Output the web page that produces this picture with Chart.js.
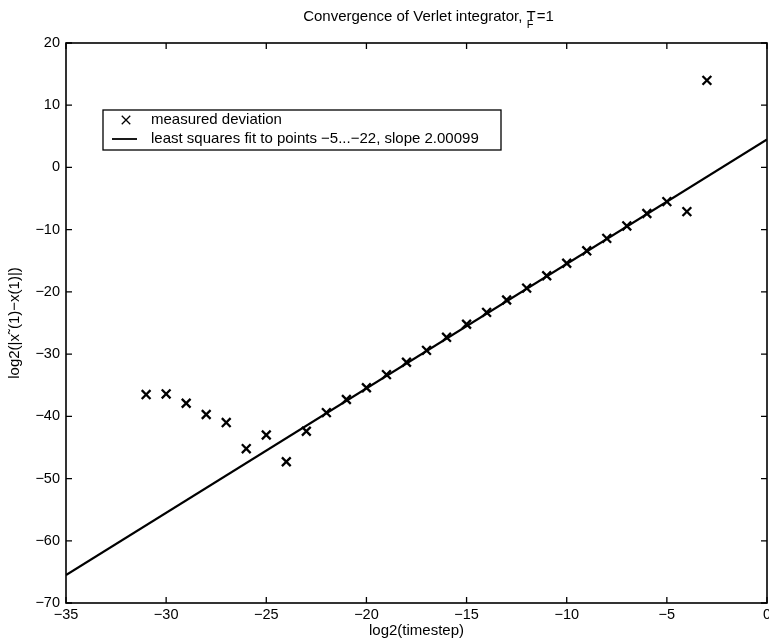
<!DOCTYPE html>
<html>
<head>
<meta charset="utf-8">
<script src="https://cdn.jsdelivr.net/npm/chart.js@4.4.1/dist/chart.umd.min.js"></script>
<style>
html,body{margin:0;padding:0;background:#fff}
#wrap{width:769px;height:640px}
</style>
</head>
<body>
<div id="wrap"><canvas id="c" width="769" height="640"></canvas></div>
<script>
// log2 of the timestep and the measured deviation at that step
const stepLog=[-31,-30,-29,-28,-27,-26,-25,-24,-23,-22,-21,-20,-19,-18,-17,-16,-15,-14,-13,-12,-11,-10,-9,-8,-7,-6,-5,-4,-3];
const deviation=[-36.5,-36.4,-37.9,-39.7,-41.0,-45.2,-43.0,-47.3,-42.4,-39.4,-37.3,-35.4,-33.3,-31.3,-29.4,-27.3,-25.2,-23.3,-21.3,-19.4,-17.4,-15.4,-13.4,-11.4,-9.4,-7.4,-5.5,-7.1,14.0];
// least squares line, drawn across the whole x range
const fitX=[-35,0];
const fitY=[-65.5,4.5];
const xTicks=[-35,-30,-25,-20,-15,-10,-5,0];
const yTicks=[20,10,0,-10,-20,-30,-40,-50,-60,-70];

const FONT='"Liberation Sans", Arial, Helvetica, sans-serif';
const minus=v=>String(v).replace('-','\u2212');

const frame={
  id:'frame',
  afterDraw(chart){
    const {ctx,chartArea:a,scales:{x,y}}=chart;
    ctx.save();
    ctx.strokeStyle='#000';ctx.lineWidth=1.6;
    ctx.strokeRect(a.left,a.top,a.right-a.left,a.bottom-a.top);
    // inward tick marks on all four sides
    ctx.beginPath();
    xTicks.forEach(v=>{const p=x.getPixelForValue(v);ctx.moveTo(p,a.bottom);ctx.lineTo(p,a.bottom-6);ctx.moveTo(p,a.top);ctx.lineTo(p,a.top+6)});
    yTicks.forEach(v=>{const p=y.getPixelForValue(v);ctx.moveTo(a.left,p);ctx.lineTo(a.left+6,p);ctx.moveTo(a.right,p);ctx.lineTo(a.right-6,p)});
    ctx.lineWidth=1.3;ctx.stroke();

    // title with subscript F
    ctx.fillStyle='#000';ctx.textBaseline='alphabetic';ctx.textAlign='left';
    const t1='Convergence of Verlet integrator, T',t3='=1';
    ctx.font='15px '+FONT;
    const w1=ctx.measureText(t1).width,w3=ctx.measureText(t3).width;
    const tx=428-(w1+w3)/2;
    ctx.fillText(t1,tx,21);
    ctx.fillText(t3,tx+w1+1,21);
    ctx.font='11px '+FONT;
    ctx.fillText('F',tx+w1-9,28);

    // legend box
    const ds=chart.data.datasets;
    const lx=103,ly=110,lw=398,lh=40;
    ctx.fillStyle='#fff';ctx.fillRect(lx,ly,lw,lh);
    ctx.lineWidth=1.3;ctx.strokeStyle='#000';ctx.strokeRect(lx,ly,lw,lh);
    Chart.helpers.drawPoint(ctx,{pointStyle:'crossRot',radius:6,borderWidth:2.2,rotation:0},126,120);
    ctx.beginPath();ctx.moveTo(112,139);ctx.lineTo(137,139);ctx.lineWidth=1.8;ctx.stroke();
    ctx.fillStyle='#000';ctx.font='15px '+FONT;ctx.textBaseline='middle';
    ctx.fillText(ds[0].label,151,120);
    ctx.fillText(ds[1].label,151,139);
    ctx.restore();
  }
};

new Chart(document.getElementById('c'),{
  type:'scatter',
  data:{datasets:[
    {label:'measured deviation',data:stepLog.map((v,i)=>({x:v,y:deviation[i]})),
     pointStyle:'crossRot',pointRadius:6.2,pointBorderWidth:2.3,borderColor:'#000',backgroundColor:'#000',showLine:false},
    {label:'least squares fit to points \u22125...\u221222, slope 2.00099',data:fitX.map((v,i)=>({x:v,y:fitY[i]})),
     showLine:true,pointRadius:0,borderColor:'#000',borderWidth:2.2}
  ]},
  options:{
    responsive:false,animation:false,devicePixelRatio:1,
    layout:{autoPadding:false,padding:{top:43,right:2,left:0,bottom:0}},
    plugins:{legend:{display:false},title:{display:false},tooltip:{enabled:false}},
    scales:{
      x:{type:'linear',min:-35,max:0,
        grid:{display:false,drawTicks:false},border:{display:false},
        afterBuildTicks:s=>{s.ticks=xTicks.map(v=>({value:v}))},
        afterFit:s=>{s.height=37;s.paddingLeft=0;s.paddingRight=0},
        ticks:{color:'#000',font:{family:FONT,size:14.5},padding:3,maxRotation:0,callback:minus},
        title:{display:true,text:'log2(timestep)',color:'#000',font:{family:FONT,size:15},padding:{top:0,bottom:0}}},
      y:{type:'linear',min:-70,max:20,
        grid:{display:false,drawTicks:false},border:{display:false},
        afterBuildTicks:s=>{s.ticks=yTicks.map(v=>({value:v}))},
        afterFit:s=>{s.width=66;s.paddingTop=0;s.paddingBottom=0},
        ticks:{color:'#000',font:{family:FONT,size:14.5},padding:6,callback:minus},
        title:{display:true,text:'log2(|x\u02DC(1)\u2212x(1)|)',color:'#000',font:{family:FONT,size:15},padding:{top:6,bottom:0}}}
    }
  },
  plugins:[frame]
});
</script>
</body>
</html>
